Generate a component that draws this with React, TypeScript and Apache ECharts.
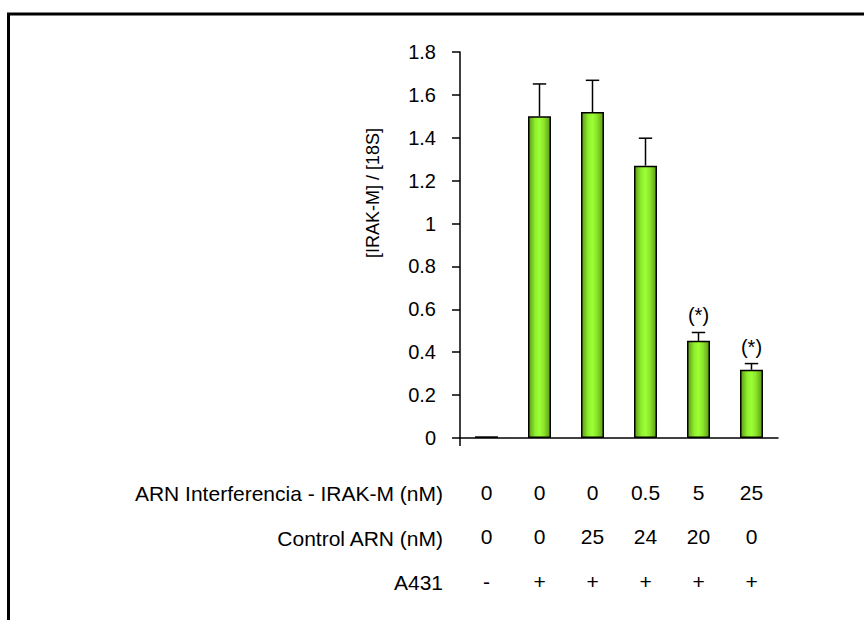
import React, { useEffect, useRef } from 'react';
import * as echarts from 'echarts';

const categories = ['g1', 'g2', 'g3', 'g4', 'g5', 'g6'];
const arnValues = ['0', '0', '0', '0.5', '5', '25'];
const controlValues = ['0', '0', '25', '24', '20', '0'];
const a431Values = ['-', '+', '+', '+', '+', '+'];
const rowLabels = ['ARN Interferencia - IRAK-M (nM)', 'Control ARN (nM)', 'A431'];
const meanValues = [0.008, 1.5, 1.52, 1.27, 0.453, 0.318];
const errValues = [0, 0.151, 0.148, 0.128, 0.039, 0.029];
const significant = [false, false, false, false, true, true];
const yAxisTitle = '[IRAK-M] / [18S]';

const FONT = '"Liberation Sans", Arial, Helvetica, sans-serif';

export default function App() {
  const ref = useRef<HTMLDivElement>(null);
  useEffect(() => {
    if (!ref.current) return;
    const chart = echarts.init(ref.current, null, { renderer: 'svg' });
    const barGradient = new echarts.graphic.LinearGradient(0, 0, 1, 0, [
      { offset: 0, color: '#5a9a16' },
      { offset: 0.3, color: '#8fef2c' },
      { offset: 0.5, color: '#9bff36' },
      { offset: 0.7, color: '#8ce52a' },
      { offset: 1, color: '#5c9e16' },
    ]);
    const option: any = {
      animation: false,
      backgroundColor: '#fff',
      grid: { left: 460, right: 86, top: 52, bottom: 182, containLabel: false },
      xAxis: {
        type: 'category',
        data: categories,
        boundaryGap: true,
        axisLine: { show: true, lineStyle: { color: '#000', width: 1.5 } },
        axisTick: { show: false },
        axisLabel: {
          interval: 0,
          margin: 32,
          color: '#000',
          fontSize: 21,
          fontFamily: FONT,
          lineHeight: 44.5,
          formatter: (_v: string, i: number) =>
            `${arnValues[i]}\n${controlValues[i]}\n${a431Values[i]}`,
        },
      },
      yAxis: {
        type: 'value',
        min: 0,
        max: 1.8,
        interval: 0.2,
        splitLine: { show: false },
        axisLine: { show: true, lineStyle: { color: '#000', width: 1.5 } },
        axisTick: { show: true, length: 8, lineStyle: { color: '#000', width: 1.5 } },
        axisLabel: { color: '#000', fontSize: 20, fontFamily: FONT, margin: 24 },
      },
      graphic: [
        {
          type: 'rect',
          shape: { x: 8.5, y: 14, width: 1000, height: 800 },
          style: { fill: 'none', stroke: '#000', lineWidth: 3 },
          silent: true,
        },
        {
          type: 'text',
          x: 373,
          y: 193,
          rotation: Math.PI / 2,
          style: {
            text: yAxisTitle,
            fill: '#000',
            fontSize: 18,
            fontFamily: FONT,
            align: 'center',
            verticalAlign: 'middle',
          },
        },
        ...rowLabels.map((t, i) => ({
          type: 'text',
          x: 443,
          y: [493, 538, 582][i],
          style: {
            text: t,
            fill: '#000',
            fontSize: 21,
            fontFamily: FONT,
            align: 'right',
            verticalAlign: 'middle',
          },
        })),
      ],
      series: [
        {
          type: 'bar',
          data: meanValues,
          barWidth: 23,
          itemStyle: { color: barGradient, borderColor: '#000', borderWidth: 1.5 },
        },
        {
          type: 'custom',
          data: meanValues.map((v, i) => [i, v, v + errValues[i]]),
          z: 5,
          renderItem: (params: any, api: any) => {
            const idx = api.value(0);
            const mean = api.value(1);
            const top = api.value(2);
            const p0 = api.coord([idx, mean]);
            const p1 = api.coord([idx, top]);
            const half = 6.7;
            const children: any[] = [];
            if (params.dataIndex === 0) {
              const base = api.coord([idx, 0]);
              const axisX = base[0] - api.size([1, 0])[0] / 2;
              children.push({
                type: 'line',
                shape: { x1: axisX, y1: base[1], x2: axisX, y2: base[1] + 8 },
                style: { stroke: '#000', lineWidth: 1.5 },
              });
            }
            if (top > mean) {
              children.push({
                type: 'line',
                shape: { x1: p0[0], y1: p0[1], x2: p1[0], y2: p1[1] },
                style: { stroke: '#000', lineWidth: 1.5 },
              });
              children.push({
                type: 'line',
                shape: { x1: p1[0] - half, y1: p1[1], x2: p1[0] + half, y2: p1[1] },
                style: { stroke: '#000', lineWidth: 1.5 },
              });
            }
            if (significant[params.dataIndex]) {
              children.push({
                type: 'text',
                x: p1[0],
                y: p1[1] - 7,
                style: {
                  text: '(*)',
                  fill: '#000',
                  fontSize: 20,
                  fontFamily: FONT,
                  align: 'center',
                  verticalAlign: 'bottom',
                },
              });
            }
            return { type: 'group', children };
          },
        },
      ],
    };
    chart.setOption(option);
    return () => chart.dispose();
  }, []);
  return (
    <div
      ref={ref}
      style={{ position: 'absolute', left: 0, top: 0, width: 864, height: 620 }}
    />
  );
}
